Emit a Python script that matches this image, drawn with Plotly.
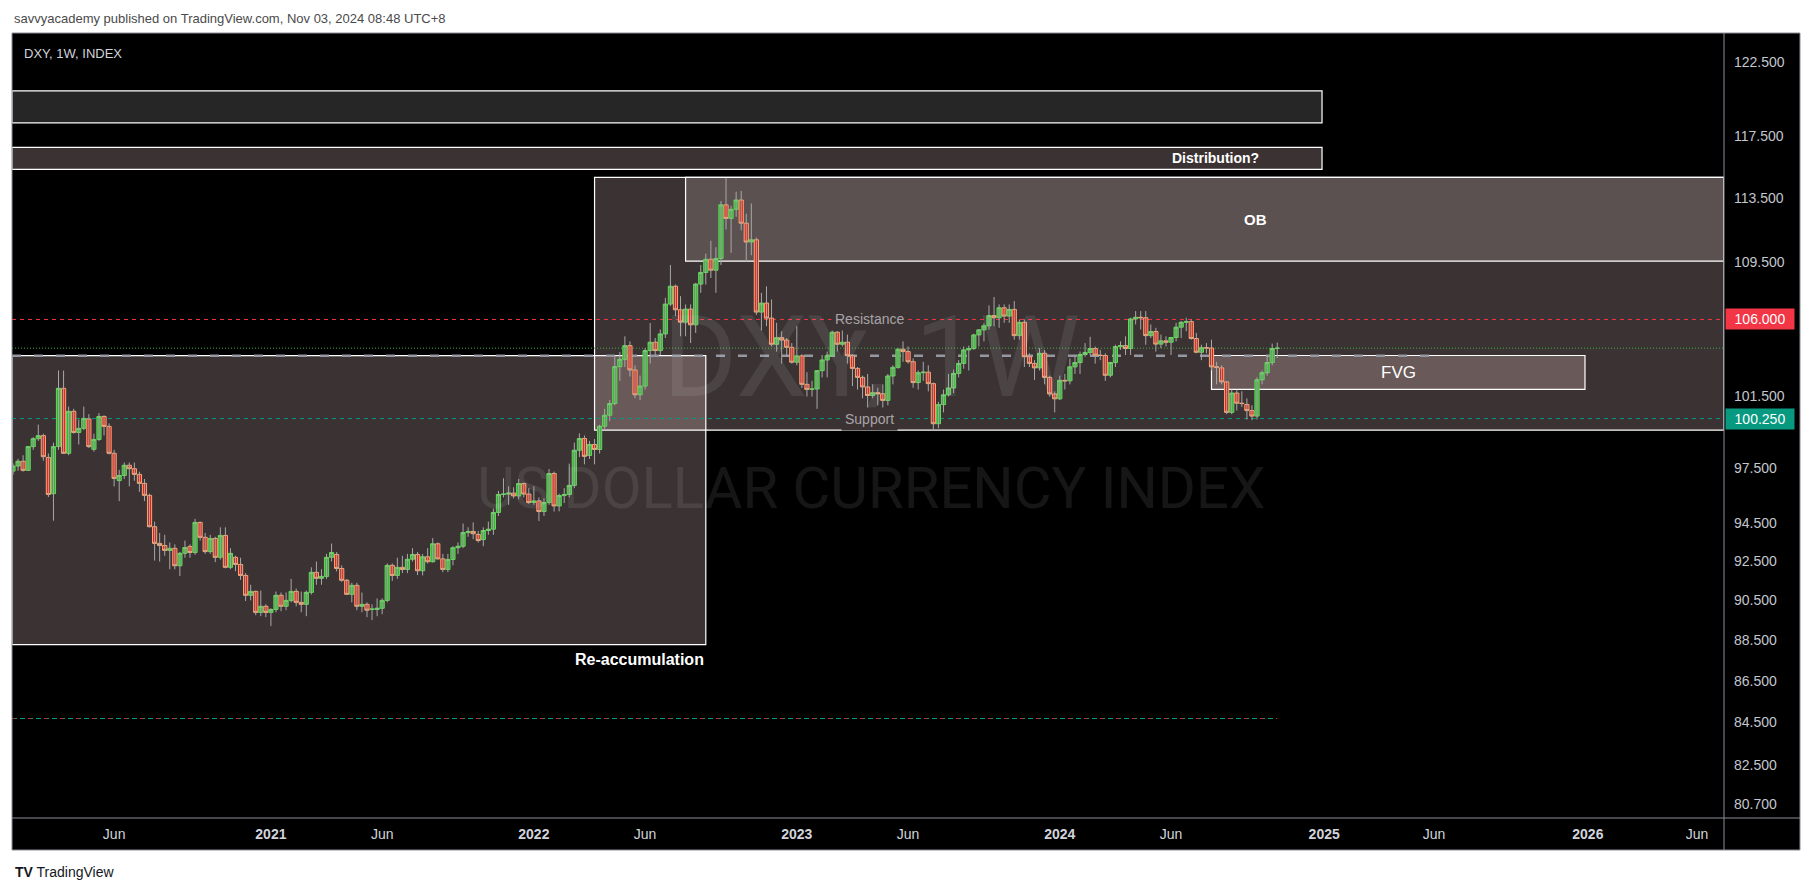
import numpy as np
import pandas as pd
import plotly.graph_objects as go

# ---------------- DATA ----------------
# weekly candles (open, high, low, close); first week starts 2020-01-13
first_week = "2020-01-13"

ohlc_2020 = [
    (97.33, 97.75, 97.13, 97.61), (97.61, 98.00, 97.35, 97.87), (97.87, 98.20, 97.30, 97.37),
    (97.37, 98.72, 97.35, 98.68), (98.68, 99.20, 98.50, 99.12), (99.12, 99.91, 99.00, 99.29),
    (99.29, 99.40, 97.90, 98.12), (98.08, 98.30, 95.92, 96.06), (96.10, 98.90, 94.65, 98.68),
    (98.68, 103.00, 98.50, 101.97), (101.97, 102.99, 98.27, 98.31), (98.31, 100.93, 98.20, 100.66),
    (100.66, 100.80, 99.40, 99.47), (99.47, 100.20, 98.80, 99.70), (99.70, 100.93, 99.60, 100.26),
    (100.23, 100.50, 98.60, 98.68), (98.53, 99.40, 98.40, 99.08), (99.08, 100.56, 99.00, 100.37),
    (100.37, 100.43, 99.30, 99.81), (99.81, 99.98, 98.25, 98.31), (98.31, 98.50, 96.50, 96.93),
    (96.81, 97.40, 95.70, 97.09), (97.09, 97.80, 96.90, 97.65), (97.65, 97.80, 96.50, 97.46),
    (97.46, 97.80, 96.80, 97.15), (97.15, 97.30, 96.20, 96.66), (96.66, 96.90, 95.70, 96.01),
    (96.01, 96.10, 94.30, 94.33), (94.33, 94.60, 92.55, 93.45), (93.45, 94.00, 92.50, 93.34),
    (93.34, 93.90, 92.80, 93.08), (93.08, 93.50, 92.10, 93.19), (93.19, 93.40, 92.10, 92.28),
    (92.28, 93.00, 91.75, 92.93), (92.93, 93.60, 92.70, 93.23), (93.29, 93.40, 92.70, 92.97),
    (92.97, 94.75, 92.85, 94.56), (94.56, 94.60, 93.60, 93.77), (93.77, 94.00, 92.90, 93.02),
    (93.02, 93.90, 92.90, 93.71), (93.71, 93.80, 92.47, 92.72), (92.72, 94.30, 92.60, 93.87),
    (93.87, 94.30, 92.15, 92.20), (92.20, 93.20, 92.10, 92.93), (92.72, 92.80, 92.00, 92.35),
    (92.35, 92.70, 91.55, 91.78), (91.78, 91.90, 90.47, 90.76), (90.76, 91.30, 90.50, 90.96),
    (90.96, 91.00, 89.75, 89.89), (89.89, 91.00, 89.70, 90.20), (90.20, 90.30, 89.65, 89.89),
]

ohlc_2021 = [
    (89.89, 90.10, 89.20, 90.04), (90.04, 90.95, 89.90, 90.76), (90.76, 90.90, 89.95, 90.20),
    (90.20, 90.90, 90.00, 90.50), (90.50, 91.60, 90.40, 90.96), (90.96, 91.10, 90.20, 90.40),
    (90.40, 90.95, 89.90, 90.30), (90.30, 91.00, 89.70, 90.91), (90.91, 92.20, 90.80, 91.94),
    (91.94, 92.50, 91.30, 91.63), (91.63, 92.10, 91.30, 91.73), (91.73, 92.90, 91.60, 92.72),
    (92.72, 93.44, 92.50, 92.97), (92.87, 93.00, 91.99, 92.14), (92.14, 92.30, 91.45, 91.53),
    (91.53, 91.60, 90.80, 90.81), (90.81, 91.40, 90.40, 91.27), (91.27, 91.40, 90.00, 90.20),
    (90.20, 90.90, 89.90, 90.30), (90.30, 90.40, 89.65, 90.00), (90.04, 90.30, 89.50, 90.06),
    (90.04, 90.60, 89.70, 90.10), (90.10, 90.60, 89.80, 90.50), (90.50, 92.40, 90.40, 92.30),
    (92.30, 92.40, 91.50, 91.78), (91.78, 92.70, 91.60, 92.20), (92.20, 92.80, 91.90, 92.09),
    (92.09, 92.90, 91.90, 92.62), (92.62, 93.20, 92.50, 92.87), (92.87, 93.00, 91.80, 92.02),
    (92.02, 92.90, 91.78, 92.75), (92.75, 93.20, 92.40, 92.49), (92.49, 93.73, 92.45, 93.43),
    (93.43, 93.50, 92.60, 92.64), (92.64, 92.90, 91.95, 92.09), (92.09, 92.90, 91.95, 92.61),
    (92.61, 93.30, 92.30, 93.22), (93.22, 93.50, 92.90, 93.30), (93.30, 94.50, 93.20, 94.02),
    (94.02, 94.30, 93.80, 94.08), (94.08, 94.56, 93.67, 93.96), (93.92, 94.10, 93.50, 93.60),
    (93.65, 94.30, 93.30, 94.13), (94.13, 94.60, 93.90, 94.20), (94.20, 95.30, 93.90, 95.09),
    (95.09, 96.25, 94.90, 96.06), (96.06, 96.94, 95.90, 96.08), (96.08, 96.50, 95.50, 96.13),
    (96.13, 96.45, 95.85, 95.98), (95.98, 96.90, 95.80, 96.65), (96.65, 96.70, 95.90, 96.08),
    (96.08, 96.40, 95.55, 95.62),
]

ohlc_2022 = [
    (95.62, 96.50, 95.50, 95.71), (95.71, 95.90, 94.63, 95.14), (95.14, 95.85, 94.90, 95.62),
    (95.62, 97.44, 95.50, 97.20), (97.20, 97.30, 95.14, 95.44), (95.44, 96.10, 95.15, 96.00),
    (96.00, 96.40, 95.60, 96.06), (96.06, 97.74, 95.90, 96.55), (96.55, 98.90, 96.40, 98.48),
    (98.48, 99.42, 98.10, 99.13), (99.13, 99.30, 97.70, 98.14), (98.19, 99.00, 98.00, 98.80),
    (98.80, 99.10, 97.70, 98.52), (98.52, 99.90, 98.30, 99.82), (99.82, 100.80, 99.60, 100.44),
    (100.44, 101.30, 100.10, 101.10), (101.10, 103.90, 101.00, 103.22), (103.22, 104.07, 102.40, 103.65),
    (103.65, 105.00, 103.20, 104.45), (104.45, 104.70, 102.65, 103.03), (103.03, 103.30, 101.40, 101.60),
    (101.60, 102.70, 101.30, 102.10), (102.10, 104.30, 101.90, 104.16), (104.16, 105.79, 103.40, 104.65),
    (104.65, 104.90, 103.90, 104.16), (104.16, 105.40, 103.90, 105.14), (105.14, 107.30, 104.90, 106.92),
    (106.92, 109.30, 106.80, 108.00), (108.00, 108.10, 106.20, 106.58), (106.58, 107.40, 105.00, 105.84),
    (105.84, 106.90, 105.00, 106.62), (106.62, 106.90, 104.60, 105.68), (105.68, 108.20, 105.20, 108.13),
    (108.13, 109.30, 107.60, 108.84), (108.84, 110.00, 108.10, 109.65), (109.65, 110.80, 108.50, 108.98),
    (108.98, 110.40, 107.60, 109.70), (109.70, 113.30, 109.30, 113.06), (113.06, 114.78, 111.50, 112.20),
    (112.20, 113.00, 110.05, 112.78), (112.78, 113.90, 112.30, 113.37), (113.37, 113.95, 111.45, 111.90),
    (111.90, 112.50, 109.50, 110.72), (110.72, 113.15, 109.90, 110.86), (110.86, 111.00, 106.27, 106.44),
    (106.44, 107.60, 105.34, 106.98), (106.98, 107.99, 105.60, 106.08), (106.08, 107.20, 104.40, 104.53),
    (104.53, 105.80, 104.10, 104.92), (104.92, 105.30, 103.40, 104.78), (104.78, 104.90, 103.80, 104.35),
    (104.35, 104.60, 103.40, 103.48),
]

ohlc_2023 = [
    (103.48, 105.60, 103.30, 103.85), (103.85, 103.95, 101.99, 102.20), (102.20, 102.90, 101.50, 101.91),
    (101.91, 102.40, 101.50, 101.93), (101.93, 103.00, 100.80, 102.99), (102.99, 103.90, 102.60, 103.61),
    (103.61, 104.10, 102.60, 103.86), (103.86, 105.36, 103.80, 105.24), (105.24, 105.30, 104.10, 104.53),
    (104.53, 105.88, 104.40, 104.65), (104.65, 105.10, 103.40, 103.86), (103.86, 103.95, 102.10, 103.12),
    (103.12, 103.20, 101.90, 102.60), (102.60, 102.70, 101.40, 102.05), (102.05, 102.80, 100.80, 101.56),
    (101.56, 102.20, 101.40, 101.72), (101.72, 102.00, 101.00, 101.66), (101.66, 102.20, 100.80, 101.28),
    (101.28, 102.80, 101.00, 102.68), (102.68, 103.30, 102.20, 103.18), (103.18, 104.30, 103.10, 104.24),
    (104.24, 104.70, 103.50, 104.10), (104.10, 104.40, 103.40, 103.51), (103.51, 103.70, 102.00, 102.30),
    (102.30, 103.00, 101.90, 102.87), (102.87, 103.50, 102.40, 102.90), (102.90, 103.30, 101.80, 102.24),
    (102.24, 102.30, 99.57, 99.96), (99.96, 101.20, 99.70, 101.04), (101.04, 101.90, 100.60, 101.60),
    (101.60, 102.80, 101.50, 101.99), (101.99, 103.05, 101.70, 102.83), (102.83, 103.60, 102.60, 103.41),
    (103.41, 104.40, 103.10, 104.20), (104.20, 104.45, 103.00, 104.28), (104.28, 105.15, 104.20, 105.08),
    (105.08, 105.43, 104.40, 105.38), (105.38, 105.78, 104.70, 105.62), (105.62, 106.84, 105.40, 106.23),
    (106.23, 107.35, 105.60, 106.10), (106.10, 106.90, 105.50, 106.70), (106.70, 106.90, 105.80, 106.20),
    (106.20, 106.90, 105.80, 106.60), (106.60, 107.10, 104.80, 105.04), (105.04, 106.00, 104.80, 105.83),
    (105.83, 106.00, 103.20, 103.80), (103.80, 104.00, 103.20, 103.41), (103.41, 103.60, 102.45, 103.15),
    (103.15, 104.30, 103.00, 104.00), (104.00, 104.20, 102.20, 102.60), (102.60, 102.70, 101.50, 101.65),
    (101.65, 101.80, 100.60, 101.37),
]

ohlc_2024 = [
    (101.37, 102.70, 101.30, 102.43), (102.43, 102.80, 101.90, 102.40), (102.40, 103.70, 102.20, 103.21),
    (103.21, 103.80, 102.80, 103.46), (103.46, 104.10, 102.80, 103.93), (103.93, 104.60, 103.80, 104.05),
    (104.05, 104.97, 103.90, 104.28), (104.28, 104.40, 103.40, 103.89), (103.89, 104.20, 103.60, 103.87),
    (103.87, 104.00, 102.40, 102.72), (102.72, 103.50, 102.60, 103.46), (103.46, 104.50, 103.20, 104.39),
    (104.39, 104.70, 104.20, 104.45), (104.45, 105.00, 103.90, 104.28), (104.28, 106.10, 103.90, 106.03),
    (106.03, 106.50, 105.70, 106.13), (106.13, 106.50, 105.40, 106.10), (106.10, 106.50, 104.50, 105.04),
    (105.04, 105.70, 104.90, 105.28), (105.28, 105.50, 104.10, 104.54), (104.54, 105.10, 104.30, 104.73),
    (104.73, 105.00, 104.40, 104.65), (104.65, 104.90, 103.90, 104.93), (104.93, 105.80, 104.70, 105.54),
    (105.54, 105.90, 104.90, 105.83), (105.83, 106.10, 105.30, 105.87), (105.87, 106.00, 104.80, 104.87),
    (104.87, 105.20, 104.00, 104.06), (104.06, 104.50, 103.60, 104.33), (104.33, 104.60, 104.00, 104.31),
    (104.31, 104.80, 103.00, 103.21), (103.21, 103.50, 102.20, 103.19), (103.15, 103.30, 102.20, 102.34),
    (102.34, 102.40, 100.50, 100.60), (100.60, 101.90, 100.50, 101.70), (101.70, 101.90, 100.70, 101.12),
    (101.12, 101.80, 100.90, 101.10), (101.05, 101.40, 100.20, 100.70), (100.70, 101.00, 100.16, 100.39),
    (100.39, 102.60, 100.20, 102.46), (102.46, 103.00, 102.20, 102.87), (102.87, 103.90, 102.70, 103.46),
    (103.46, 104.57, 103.30, 104.28), (104.28, 104.63, 103.73, 104.30),
]

# axis ticks
x_tick_dates = ["2020-06-01", "2021-01-04", "2021-06-07", "2022-01-03", "2022-06-06", "2023-01-02",
                "2023-06-05", "2024-01-01", "2024-06-03", "2025-01-01", "2025-06-02", "2026-01-01",
                "2026-06-01"]
x_tick_labels = ["Jun", "2021", "Jun", "2022", "Jun", "2023", "Jun", "2024", "Jun", "2025", "Jun",
                 "2026", "Jun"]
y_tick_values = [80.7, 82.5, 84.5, 86.5, 88.5, 90.5, 92.5, 94.5, 97.5, 101.5, 109.5,
                 113.5, 117.5, 122.5]

# drawn levels
resistance_level = 106.0
support_level = 100.25
imbalance_level = 103.86
lower_level = 84.68
imbalance_line_end = "2025-05-30"

# drawn zones: name, start, end, bottom, top  (None = chart edge)
zone_names = ["band", "distribution", "reaccumulation", "range", "ob", "fvg"]
zone_x0 = [None, None, None, "2022-03-28", "2022-08-01", "2024-07-29"]
zone_x1 = ["2024-12-29", "2024-12-29", "2022-08-29", None, None, "2025-12-28"]
zone_y0 = [118.40, 115.34, 88.28, 99.60, 109.54, 101.91]
zone_y1 = [120.55, 116.78, 103.86, 114.82, 114.82, 103.87]

# ---------------- STYLE / LAYOUT ----------------
FONT = "Liberation Sans"
W, H = 1798, 880
ML, MR, MT, MB = 4, 82, 25, 70
PW, PH = W - ML - MR, H - MT - MB
X_START, X_END = "2020-01-11 14:46", "2026-07-08 10:00"
Y_MIN, Y_MAX = 80.07, 124.54

zone_fill = {"band": "#262626", "distribution": "#3b3333", "reaccumulation": "#3b3333",
             "range": "#3b3333", "ob": "#5a5150", "fvg": "#6a5959"}
overlap_fill = "#6a5959"


def pxp(X):  # window px -> paper x
    return (X - 8 - ML) / PW


def pyp(Y):  # window px -> paper y
    return (H - MB + 8 - Y) / PH


all_ohlc = ohlc_2020 + ohlc_2021 + ohlc_2022 + ohlc_2023 + ohlc_2024
dates = pd.date_range(first_week, periods=len(all_ohlc), freq="7D")
o = np.array([r[0] for r in all_ohlc])
h = np.array([r[1] for r in all_ohlc])
l = np.array([r[2] for r in all_ohlc])
c = np.array([r[3] for r in all_ohlc])

fig = go.Figure()

# watermark (below candles)
wm_x = "2023-04-15"
fig.add_trace(go.Scatter(x=[wm_x], y=[103.2], mode="text", text=["DXY, 1W"],
                         textposition="middle center",
                         textfont=dict(family="Roboto", size=114, color="rgba(255,255,255,0.085)"),
                         hoverinfo="skip", showlegend=False))
fig.add_trace(go.Scatter(x=[wm_x], y=[96.1], mode="text", text=["US DOLLAR CURRENCY INDEX"],
                         textposition="middle center",
                         textfont=dict(family="Roboto", size=58, color="rgba(255,255,255,0.085)"),
                         hoverinfo="skip", showlegend=False))

# wicks
wx, wy = [], []
for d, lo, hi in zip(dates, l, h):
    wx += [d, d, None]
    wy += [lo, hi, None]
fig.add_trace(go.Scatter(x=wx, y=wy, mode="lines", line=dict(color="#a8a8a8", width=1),
                         hoverinfo="skip", showlegend=False))

# bodies
fig.add_trace(go.Candlestick(
    x=dates, open=o, close=c, high=np.maximum(o, c), low=np.minimum(o, c),
    increasing=dict(fillcolor="#3fae3f", line=dict(color="#62d95a", width=1)),
    decreasing=dict(fillcolor="#d9261c", line=dict(color="#f7a878", width=1)),
    whiskerwidth=0, hoverinfo="skip", showlegend=False))

# chart panel background (incl. axis areas)
fig.add_shape(type="rect", xref="paper", yref="paper", x0=pxp(12), x1=pxp(1800), y0=pyp(850), y1=pyp(33),
              fillcolor="black", line=dict(width=0), layer="below")

# zones
zones = []
for name, x0, x1, y0, y1 in zip(zone_names, zone_x0, zone_x1, zone_y0, zone_y1):
    zones.append(dict(name=name, x0=x0 or X_START, x1=x1 or X_END, y0=y0, y1=y1))
for z in zones:
    fig.add_shape(type="rect", xref="x", yref="y", x0=z["x0"], x1=z["x1"], y0=z["y0"], y1=z["y1"],
                  fillcolor=zone_fill[z["name"]], line=dict(width=0), layer="below")
zr = {z["name"]: z for z in zones}
a, b = zr["range"], zr["reaccumulation"]
ov = dict(x0=max(a["x0"], b["x0"]), x1=min(a["x1"], b["x1"]), y0=max(a["y0"], b["y0"]), y1=min(a["y1"], b["y1"]))
fig.add_shape(type="rect", xref="x", yref="y", **ov, fillcolor=overlap_fill, line=dict(width=0), layer="below")
# redraw fvg on top of range fill
f = zr["fvg"]
fig.add_shape(type="rect", xref="x", yref="y", x0=f["x0"], x1=f["x1"], y0=f["y0"], y1=f["y1"],
              fillcolor=zone_fill["fvg"], line=dict(width=0), layer="below")
for z in zones:
    fig.add_shape(type="rect", xref="x", yref="y", x0=z["x0"], x1=z["x1"], y0=z["y0"], y1=z["y1"],
                  fillcolor="rgba(0,0,0,0)", line=dict(color="white", width=1.2), layer="below")

# horizontal levels
fig.add_shape(type="line", xref="x", yref="y", x0=X_START, x1=imbalance_line_end, y0=imbalance_level,
              y1=imbalance_level, line=dict(color="#9598a1", width=2.5, dash="9px,13px"), layer="below")
fig.add_shape(type="line", xref="x", yref="y", x0=X_START, x1=X_END, y0=resistance_level, y1=resistance_level,
              line=dict(color="#f23645", width=1, dash="4px,4px"), layer="below")
fig.add_shape(type="line", xref="x", yref="y", x0=X_START, x1=X_END, y0=support_level, y1=support_level,
              line=dict(color="#089981", width=1, dash="4px,4px"), layer="below")
fig.add_shape(type="line", xref="x", yref="y", x0=X_START, x1=X_END, y0=c[-1], y1=c[-1],
              line=dict(color="#3fae3f", width=1, dash="1px,2px"), layer="below")
fig.add_shape(type="line", xref="x", yref="y", x0=X_START, x1=dates[-1], y0=lower_level, y1=lower_level,
              line=dict(color="#089981", width=1, dash="5px,3px"), layer="below")
fig.add_shape(type="line", xref="x", yref="y", x0=X_START, x1=dates[-1], y0=lower_level, y1=lower_level,
              line=dict(color="#c2272d", width=1, dash="3px,13px"), layer="below")

# panel borders
border = "#8a8d96"
fig.add_shape(type="rect", xref="paper", yref="paper", x0=pxp(12), x1=pxp(1800), y0=pyp(850), y1=pyp(33),
              fillcolor="rgba(0,0,0,0)", line=dict(color=border, width=1), layer="above")
fig.add_shape(type="line", xref="paper", yref="paper", x0=1, x1=1, y0=pyp(850), y1=1,
              line=dict(color=border, width=1), layer="above")
fig.add_shape(type="line", xref="paper", yref="paper", x0=0, x1=pxp(1800), y0=0, y1=0,
              line=dict(color=border, width=1), layer="above")


def gmean(z):
    return (np.log10(z["y0"]) + np.log10(z["y1"])) / 2


# zone labels
fig.add_annotation(xref="x", yref="y", x="2024-10-06", y=gmean(zr["distribution"]), xanchor="right",
                   text="<b>Distribution?</b>", showarrow=False, font=dict(family=FONT, size=14, color="white"))
fig.add_annotation(xref="x", yref="y", x="2024-09-28", y=gmean(zr["ob"]), text="<b>OB</b>", showarrow=False,
                   font=dict(family=FONT, size=15, color="white"))
fvg_mid = pd.Timestamp(f["x0"]) + (pd.Timestamp(f["x1"]) - pd.Timestamp(f["x0"])) / 2
fig.add_annotation(xref="x", yref="y", x=fvg_mid, y=gmean(f), text="FVG", showarrow=False,
                   font=dict(family=FONT, size=17, color="white"))
fig.add_annotation(xref="x", yref="y", x=zr["reaccumulation"]["x1"], y=np.log10(zr["reaccumulation"]["y0"]),
                   xanchor="right", yanchor="top", yshift=-4, text="<b>Re-accumulation</b>", showarrow=False,
                   font=dict(family=FONT, size=16, color="white"))
for lvl, txt in [(resistance_level, "Resistance"), (support_level, "Support")]:
    fig.add_annotation(xref="x", yref="y", x="2023-04-13", y=np.log10(lvl), text=txt, showarrow=False,
                       bgcolor=zone_fill["range"], borderpad=3,
                       font=dict(family=FONT, size=14, color="#a9a4a8"))

# price axis labels
for lvl, col in [(resistance_level, "#f23645"), (support_level, "#089981")]:
    fig.add_annotation(xref="paper", yref="y", x=1.0, xanchor="left", xshift=1, y=np.log10(lvl),
                       text=f"{lvl:.3f}", showarrow=False, bgcolor=col, width=64, height=16, borderpad=2,
                       font=dict(family=FONT, size=14, color="white"))

# header / footer texts
fig.add_annotation(xref="paper", yref="paper", x=pxp(12), y=pyp(18.5), xanchor="left", yanchor="middle",
                   text="savvyacademy published on TradingView.com, Nov 03, 2024 08:48 UTC+8", showarrow=False,
                   font=dict(family=FONT, size=13, color="#4a4a4a"))
fig.add_annotation(xref="paper", yref="paper", x=pxp(22), y=pyp(53), xanchor="left", yanchor="middle",
                   text="DXY, 1W, INDEX", showarrow=False, font=dict(family=FONT, size=13, color="#d1d4dc"))
fig.add_annotation(xref="paper", yref="paper", x=pxp(13), y=pyp(872), xanchor="left", yanchor="middle",
                   text="<b>TV</b> TradingView", showarrow=False, font=dict(family=FONT, size=14, color="#131722"))

fig.update_xaxes(type="date", range=[X_START, X_END], tickvals=x_tick_dates,
                 ticktext=[f"<b>{t}</b>" if t.isdigit() else t for t in x_tick_labels],
                 showgrid=False, zeroline=False, showline=False, ticks="", rangeslider=dict(visible=False),
                 tickfont=dict(family=FONT, size=14, color="#d1d4dc"), ticklabelstandoff=6, fixedrange=True)
fig.update_yaxes(type="log", side="right", range=[np.log10(Y_MIN), np.log10(Y_MAX)], tickvals=y_tick_values,
                 ticktext=[f"{v:.3f}" for v in y_tick_values], showgrid=False, zeroline=False, showline=False,
                 ticks="", tickfont=dict(family=FONT, size=14, color="#c3c6ce"), ticklabelstandoff=9,
                 fixedrange=True)
fig.update_layout(width=W, height=H, margin=dict(l=ML, r=MR, t=MT, b=MB), paper_bgcolor="white",
                  plot_bgcolor="black", showlegend=False, hovermode=False, boxgap=0.1, boxgroupgap=0.08)

fig.write_html("out.html")
